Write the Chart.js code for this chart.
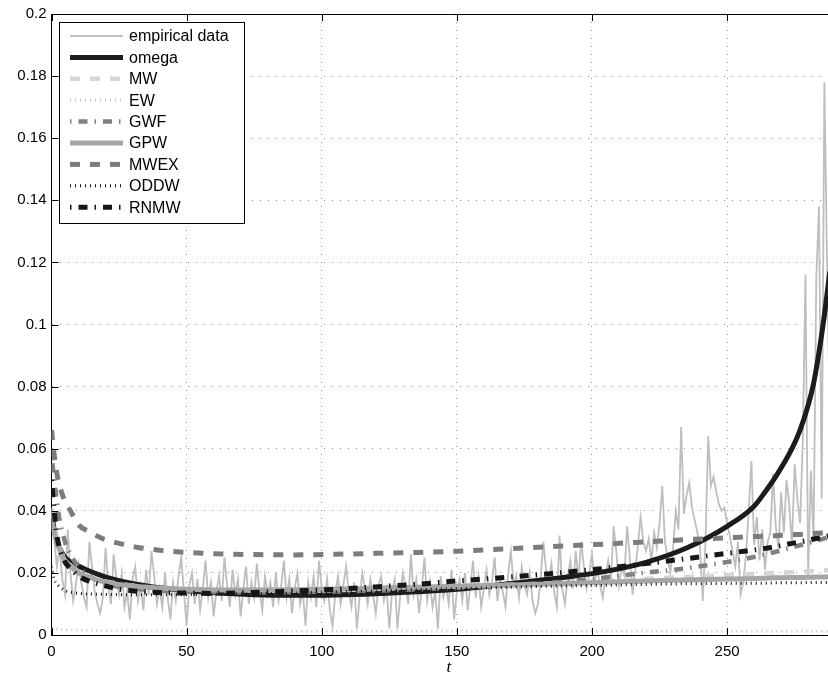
<!DOCTYPE html>
<html>
<head>
<meta charset="utf-8">
<script src="https://cdn.jsdelivr.net/npm/chart.js@4.4.1/dist/chart.umd.min.js"></script>
<style>
  html, body { margin: 0; padding: 0; background: #fff; overflow: hidden; }
  canvas { display: block; }
</style>
</head>
<body>
<canvas id="hazardChart" width="846" height="678"></canvas>
<script>
(() => {

    // tick positions and labels
    const xTicks = [0, 50, 100, 150, 200, 250];
    const yTicks = [0, 0.02, 0.04, 0.06, 0.08, 0.1, 0.12, 0.14, 0.16, 0.18, 0.2];
    const yTickLabels = ['0', '0.02', '0.04', '0.06', '0.08', '0.1', '0.12', '0.14', '0.16', '0.18', '0.2'];

    // empirical hazard, one value per t = 0..288
    const empirical = [
        0.040, 0.031, 0.022, 0.028, 0.018, 0.013, 0.034, 0.020, 0.011, 0.016,
        0.023, 0.017, 0.012, 0.009, 0.030, 0.022, 0.014, 0.010, 0.007, 0.012,
        0.028, 0.016, 0.010, 0.026, 0.018, 0.013, 0.020, 0.009, 0.014, 0.005,
        0.018, 0.022, 0.011, 0.016, 0.008, 0.021, 0.013, 0.027, 0.019, 0.010,
        0.015, 0.009, 0.020, 0.012, 0.005, 0.017, 0.011, 0.019, 0.025, 0.014,
        0.003, 0.016, 0.020, 0.010, 0.018, 0.008, 0.015, 0.024, 0.012, 0.017,
        0.006, 0.014, 0.019, 0.011, 0.025, 0.016, 0.009, 0.021, 0.013, 0.018,
        0.006, 0.015, 0.022, 0.010, 0.017, 0.012, 0.023, 0.014, 0.008, 0.019,
        0.013, 0.017, 0.009, 0.020, 0.011, 0.016, 0.024, 0.012, 0.018, 0.007,
        0.015, 0.020, 0.010, 0.014, 0.003, 0.017, 0.012, 0.019, 0.009, 0.024,
        0.015, 0.011, 0.018, 0.008, 0.003, 0.013, 0.019, 0.010, 0.016, 0.022,
        0.014, 0.009, 0.017, 0.002, 0.012, 0.020, 0.015, 0.010, 0.018, 0.013,
        0.007, 0.016, 0.019, 0.011, 0.015, 0.002, 0.014, 0.018, 0.002, 0.012,
        0.020, 0.016, 0.010, 0.026, 0.013, 0.018, 0.007, 0.015, 0.025, 0.011,
        0.017, 0.009, 0.014, 0.002, 0.019, 0.012, 0.016, 0.010, 0.021, 0.005,
        0.014, 0.018, 0.011, 0.020, 0.008, 0.016, 0.024, 0.012, 0.019, 0.009,
        0.015, 0.021, 0.013, 0.017, 0.025, 0.011, 0.018, 0.014, 0.009, 0.020,
        0.027, 0.016, 0.019, 0.012, 0.022, 0.016, 0.013, 0.020, 0.011, 0.007,
        0.010, 0.018, 0.030, 0.021, 0.017, 0.023, 0.014, 0.009, 0.032, 0.015,
        0.010, 0.019, 0.024, 0.015, 0.027, 0.018, 0.030, 0.022, 0.015, 0.020,
        0.026, 0.017, 0.021, 0.016, 0.012, 0.019, 0.024, 0.018, 0.035, 0.027,
        0.016, 0.022, 0.019, 0.035, 0.025, 0.013, 0.021, 0.029, 0.038, 0.030,
        0.027, 0.031, 0.024, 0.033, 0.028, 0.036, 0.048, 0.030, 0.025, 0.020,
        0.028, 0.040, 0.034, 0.067, 0.039, 0.045, 0.049, 0.041, 0.037, 0.033,
        0.028, 0.011, 0.030, 0.064, 0.048, 0.051, 0.046, 0.042, 0.040, 0.041,
        0.036, 0.032, 0.027, 0.022, 0.030, 0.013, 0.017, 0.026, 0.040, 0.056,
        0.029, 0.038, 0.024, 0.034, 0.021, 0.030, 0.033, 0.052, 0.035, 0.028,
        0.046, 0.033, 0.050, 0.042, 0.029, 0.055, 0.044, 0.036, 0.062, 0.116,
        0.019, 0.053, 0.030, 0.115, 0.138, 0.044, 0.178, 0.120, 0.070
    ];

    // fitted models, sampled on a common t grid
    const tGrid = [0, 1, 2, 3, 5, 7, 10, 14, 19, 25, 32, 40, 50, 60, 75, 90, 105, 120, 135, 150, 170, 190, 205, 220, 235, 250, 260, 264, 268, 274, 277, 280, 282, 284, 286, 288];
    const omega = [0.040, 0.034, 0.030, 0.028, 0.025, 0.0235, 0.0222, 0.0206, 0.019, 0.0175, 0.0163, 0.0152, 0.0143, 0.0136, 0.0130, 0.0128, 0.0129, 0.0133, 0.0139, 0.0147, 0.0166, 0.0186, 0.0205, 0.0234, 0.0280, 0.0350, 0.0415, 0.0460, 0.0510, 0.0600, 0.0660, 0.0740, 0.0810, 0.0910, 0.1030, 0.1170];
    const mw = [0.041, 0.035, 0.031, 0.028, 0.0245, 0.0225, 0.0205, 0.019, 0.0175, 0.0165, 0.0157, 0.0151, 0.0147, 0.0144, 0.0143, 0.0144, 0.0146, 0.0149, 0.0153, 0.0157, 0.0162, 0.0168, 0.0174, 0.0181, 0.0187, 0.0193, 0.0197, 0.0199, 0.0200, 0.0202, 0.0203, 0.0205, 0.0206, 0.0207, 0.0208, 0.0210];
    const ew = [0.0022, 0.0020, 0.0019, 0.0018, 0.0017, 0.0016, 0.0015, 0.0015, 0.0014, 0.0014, 0.0013, 0.0013, 0.0013, 0.0012, 0.0012, 0.0012, 0.0012, 0.0012, 0.0012, 0.0012, 0.0012, 0.0012, 0.0012, 0.0012, 0.0012, 0.0012, 0.0012, 0.0012, 0.0012, 0.0012, 0.0012, 0.0012, 0.0012, 0.0012, 0.0012, 0.0012];
    const gwf = [0.058, 0.050, 0.043, 0.037, 0.030, 0.026, 0.022, 0.019, 0.0168, 0.0155, 0.0148, 0.0143, 0.0140, 0.0138, 0.0137, 0.0138, 0.0140, 0.0143, 0.0147, 0.0152, 0.0160, 0.0172, 0.0185, 0.0201, 0.0215, 0.0235, 0.0251, 0.0259, 0.0268, 0.0282, 0.0289, 0.0296, 0.0301, 0.0306, 0.0311, 0.0316];
    const gpw = [0.038, 0.033, 0.030, 0.0275, 0.024, 0.0222, 0.020, 0.0186, 0.0172, 0.0163, 0.0156, 0.0151, 0.0147, 0.0145, 0.0145, 0.0146, 0.0148, 0.0151, 0.0154, 0.0157, 0.0161, 0.0166, 0.0170, 0.0174, 0.0177, 0.0180, 0.0182, 0.0183, 0.0184, 0.0185, 0.0185, 0.0186, 0.0186, 0.0187, 0.0187, 0.0188];
    const mwex = [0.066, 0.058, 0.052, 0.048, 0.043, 0.040, 0.0355, 0.0333, 0.031, 0.0295, 0.0282, 0.0273, 0.0266, 0.0262, 0.0259, 0.0258, 0.0260, 0.0263, 0.0266, 0.0270, 0.0278, 0.0287, 0.0293, 0.0300, 0.0307, 0.0313, 0.0317, 0.0318, 0.0320, 0.0323, 0.0324, 0.0326, 0.0327, 0.0328, 0.0329, 0.0331];
    const oddw = [0.022, 0.018, 0.0165, 0.0155, 0.0143, 0.0138, 0.0134, 0.0132, 0.0131, 0.0130, 0.0130, 0.0130, 0.0130, 0.0131, 0.0133, 0.0135, 0.0139, 0.0142, 0.0146, 0.0149, 0.0154, 0.0158, 0.0160, 0.0163, 0.0165, 0.0166, 0.0167, 0.0167, 0.0168, 0.0168, 0.0168, 0.0169, 0.0169, 0.0169, 0.0169, 0.0169];
    const rnmw = [0.050, 0.040, 0.032, 0.028, 0.0235, 0.0215, 0.019, 0.0173, 0.016, 0.0148, 0.0141, 0.0137, 0.0135, 0.0134, 0.0137, 0.0142, 0.0147, 0.0155, 0.0163, 0.0174, 0.0187, 0.0202, 0.0215, 0.0230, 0.0246, 0.0263, 0.0274, 0.0279, 0.0285, 0.0295, 0.0300, 0.0305, 0.0309, 0.0312, 0.0316, 0.0320];

    const FONT = '"Liberation Sans", Arial, Helvetica, sans-serif';

    const onGrid = vals => vals.map((v, i) => ({ x: tGrid[i], y: v }));

    const datasets = [
        { label: 'empirical data', data: empirical.map((v, i) => ({ x: i, y: v })), borderColor: '#bebebe', borderWidth: 1.8 },
        { label: 'omega', data: onGrid(omega), borderColor: '#1c1c1c', borderWidth: 5 },
        { label: 'MW', data: onGrid(mw), borderColor: '#d6d6d6', borderWidth: 4.5, borderDash: [10, 10] },
        { label: 'EW', data: onGrid(ew), borderColor: '#c4c4c4', borderWidth: 3, borderDash: [1, 4] },
        { label: 'GWF', data: onGrid(gwf), borderColor: '#808080', borderWidth: 4.5, borderDash: [1.5, 7, 9, 7] },
        { label: 'GPW', data: onGrid(gpw), borderColor: '#a6a6a6', borderWidth: 5 },
        { label: 'MWEX', data: onGrid(mwex), borderColor: '#7c7c7c', borderWidth: 5, borderDash: [10, 10] },
        { label: 'ODDW', data: onGrid(oddw), borderColor: '#111111', borderWidth: 3, borderDash: [1, 4] },
        { label: 'RNMW', data: onGrid(rnmw), borderColor: '#161616', borderWidth: 5, borderDash: [1.5, 7, 9, 7] }
    ];
    // first series at the bottom, last one on top
    datasets.forEach((ds, i) => {
        ds.order = datasets.length - i;
        ds.pointRadius = 0;
        ds.fill = false;
        if (i > 0) ds.cubicInterpolationMode = 'monotone';
    });

    // inward tick marks and the top edge of the box
    const boxTicks = {
        id: 'boxTicks',
        afterDatasetsDraw(chart) {
            const { ctx, chartArea: a, scales } = chart;
            ctx.save();
            ctx.strokeStyle = '#000';
            ctx.lineWidth = 1;
            ctx.beginPath();
            ctx.moveTo(a.left, a.top + 0.5);
            ctx.lineTo(a.right, a.top + 0.5);
            xTicks.forEach(v => {
                const x = Math.round(scales.x.getPixelForValue(v)) + 0.5;
                ctx.moveTo(x, a.bottom); ctx.lineTo(x, a.bottom - 7);
                ctx.moveTo(x, a.top); ctx.lineTo(x, a.top + 7);
            });
            yTicks.forEach(v => {
                const y = Math.round(scales.y.getPixelForValue(v)) + 0.5;
                ctx.moveTo(a.left, y); ctx.lineTo(a.left + 7, y);
            });
            ctx.stroke();
            ctx.restore();
        }
    };

    // legend box in the upper left corner
    const legendBox = {
        id: 'legendBox',
        afterDraw(chart) {
            const ctx = chart.ctx;
            ctx.save();
            ctx.fillStyle = '#fff';
            ctx.fillRect(59.5, 22.5, 185, 201);
            ctx.strokeStyle = '#000';
            ctx.lineWidth = 1;
            ctx.strokeRect(59.5, 22.5, 185, 201);
            chart.data.datasets.forEach((ds, i) => {
                const y = 36 + i * 21.4;
                ctx.strokeStyle = ds.borderColor;
                ctx.lineWidth = ds.borderWidth;
                ctx.setLineDash(ds.borderDash || []);
                ctx.beginPath();
                ctx.moveTo(70, y);
                ctx.lineTo(123, y);
                ctx.stroke();
                ctx.setLineDash([]);
                ctx.fillStyle = '#000';
                ctx.font = '16px ' + FONT;
                ctx.textBaseline = 'middle';
                ctx.fillText(ds.label, 129, y + 1);
            });
            ctx.restore();
        }
    };

    const ctx = document.getElementById('hazardChart').getContext('2d');
    new Chart(ctx, {
        type: 'line',
        data: { datasets: datasets },
        plugins: [boxTicks, legendBox],
        options: {
            responsive: false,
            devicePixelRatio: 1,
            animation: false,
            layout: { padding: { top: 14, right: 0, left: 0, bottom: 0 } },
            plugins: { legend: { display: false }, tooltip: { enabled: false } },
            scales: {
                x: {
                    type: 'linear',
                    min: 0,
                    max: 294,
                    afterBuildTicks: s => { s.ticks = xTicks.map(v => ({ value: v })); },
                    afterFit: s => { s.height = 43; },
                    grid: { color: '#8f8f8f', lineWidth: 1, drawTicks: false },
                    border: { display: true, color: '#000', width: 1, dash: [1, 7] },
                    ticks: { padding: 8, color: '#000', maxRotation: 0, autoSkip: false, font: { family: FONT, size: 15 } },
                    title: { display: true, text: 't', color: '#000', padding: { top: 0, bottom: 0 }, font: { family: '"Liberation Serif", "DejaVu Serif", serif', style: 'italic', size: 17, lineHeight: 1.2 } }
                },
                y: {
                    min: 0,
                    max: 0.2,
                    afterBuildTicks: s => { s.ticks = yTicks.map(v => ({ value: v })); },
                    afterFit: s => { s.width = 51.5; },
                    grid: { color: '#8f8f8f', lineWidth: 1, drawTicks: false },
                    border: { display: true, color: '#000', width: 1, dash: [1, 7] },
                    ticks: { padding: 5, color: '#000', font: { family: FONT, size: 15 }, callback: (v, i) => yTickLabels[i] }
                }
            }
        }
    });
})();
</script>
</body>
</html>
